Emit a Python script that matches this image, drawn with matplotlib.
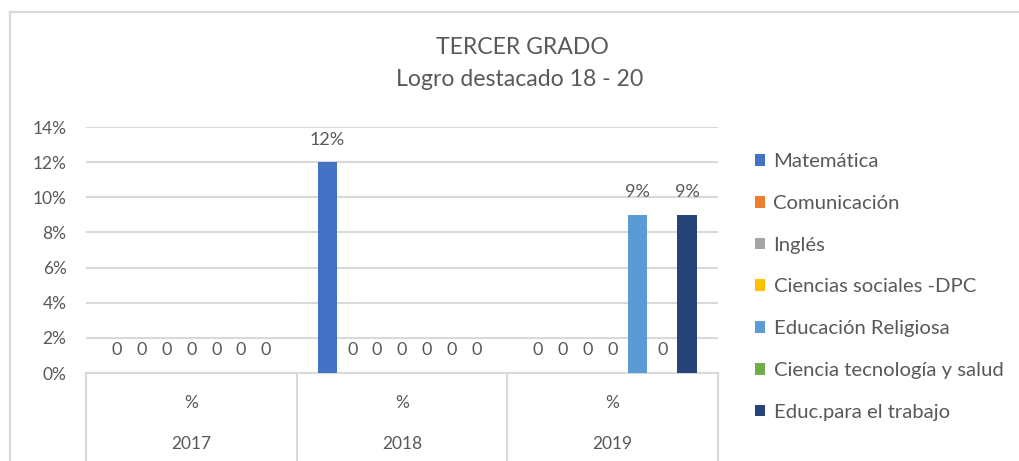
import matplotlib
matplotlib.use("Agg")
import matplotlib.pyplot as plt
import matplotlib.transforms as mtransforms
from matplotlib.lines import Line2D
import numpy as np

title_lines = ["TERCER GRADO", "Logro destacado 18 - 20"]
years = ["2017", "2018", "2019"]
sublabel = "%"
series = ["Matemática", "Comunicación", "Inglés", "Ciencias sociales -DPC",
          "Educación Religiosa", "Ciencia tecnología y salud", "Educ.para el trabajo"]
colors = ["#4472C4", "#ED7D31", "#A5A5A5", "#FFC000", "#5B9BD5", "#70AD47", "#264478"]
values = {
    "Matemática":                 [0.00, 0.12, 0.00],
    "Comunicación":               [0.00, 0.00, 0.00],
    "Inglés":                     [0.00, 0.00, 0.00],
    "Ciencias sociales -DPC":     [0.00, 0.00, 0.00],
    "Educación Religiosa":        [0.00, 0.00, 0.09],
    "Ciencia tecnología y salud": [0.00, 0.00, 0.00],
    "Educ.para el trabajo":       [0.00, 0.00, 0.09],
}
yticks = [0, 0.02, 0.04, 0.06, 0.08, 0.10, 0.12, 0.14]

FONT = "Lato"
TXT = "#595959"
GRID = "#d9d9d9"
FS = 12.5
FS_LAB = 13.0
FS_LEG = 14.6

plt.rcParams['font.family'] = [FONT, 'DejaVu Sans']

W, H = 1019, 461
fig = plt.figure(figsize=(W / 100, H / 100), dpi=100)
ax = fig.add_axes([86 / W, 1 - 373 / H, (718 - 86) / W, (373 - 127) / H])

x = np.arange(len(years))
step = 0.118
width = 0.093
n = len(series)
for i, (name, col) in enumerate(zip(series, colors)):
    vals = values[name]
    pos = x + (i - (n - 1) / 2) * step
    ax.bar(pos, vals, width=width, color=col, label=name, zorder=3)
    for p, v in zip(pos, vals):
        lab = "0" if v == 0 else f"{v * 100:.0f}%"
        ax.annotate(lab, (p, v), xytext=(0, 10.5), textcoords="offset points",
                    ha="center", va="bottom", fontsize=FS_LAB, color=TXT)

ax.set_xlim(-0.5, len(years) - 0.5)
ax.set_ylim(0, 0.14)
ax.set_yticks(yticks)
ax.set_yticklabels([f"{int(round(t * 100))}%" for t in yticks])
ax.tick_params(axis="y", length=0, pad=14, labelsize=FS, labelcolor=TXT)
ax.set_xticks([])
ax.yaxis.grid(True, color=GRID, linewidth=1.5, zorder=0)
for s in ["top", "right", "left"]:
    ax.spines[s].set_visible(False)
ax.spines["bottom"].set_color(GRID)
ax.spines["bottom"].set_linewidth(1.5)

# multi-level category axis
trans = mtransforms.blended_transform_factory(ax.transData, ax.transAxes)
ybot = -0.40
for b in np.arange(-0.5, len(years), 1.0):
    ax.add_line(Line2D([b, b], [0, ybot], transform=trans, color=GRID,
                       linewidth=1.5, clip_on=False))
for xi, yr in zip(x, years):
    ax.text(xi, -0.122, sublabel, transform=trans, ha="center", va="center",
            fontsize=FS, color=TXT)
    ax.text(xi, -0.287, yr, transform=trans, ha="center", va="center",
            fontsize=FS, color=TXT)

fig.text(522 / W, 1 - 47 / H, title_lines[0], ha="center", va="center",
         fontsize=16.6, color=TXT)
fig.text(520 / W, 1 - 80 / H, title_lines[1], ha="center", va="center",
         fontsize=16.6, color=TXT)

leg = fig.legend(loc="upper left", bbox_to_anchor=(737 / W, 1 - 135 / H),
                 frameon=False, fontsize=FS_LEG, handlelength=0.5, handleheight=0.5,
                 handletextpad=0.4, labelspacing=1.22, labelcolor=TXT)

# chart frame
fig.add_artist(Line2D([10 / W, 1], [1 - 12 / H, 1 - 12 / H], transform=fig.transFigure,
                      color=GRID, linewidth=1.6))
fig.add_artist(Line2D([10 / W, 10 / W], [0, 1 - 12 / H], transform=fig.transFigure,
                      color=GRID, linewidth=1.6))

fig.savefig("out.png", dpi=100, facecolor="white")
